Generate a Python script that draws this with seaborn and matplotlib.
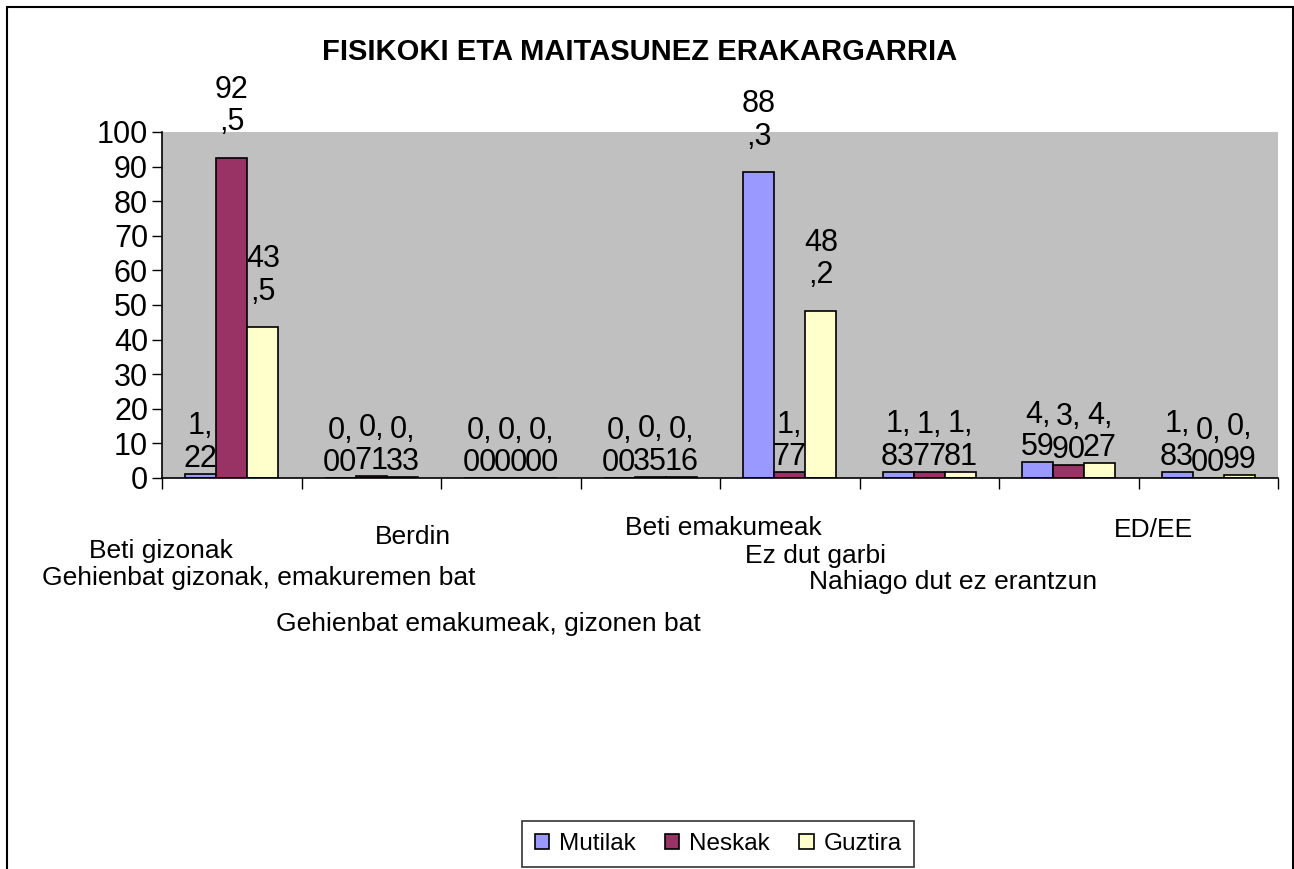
import numpy as np
import pandas as pd
import matplotlib
matplotlib.use("Agg")
import matplotlib.pyplot as plt
from matplotlib.patches import Rectangle
import seaborn as sns

categories = [
    "Beti gizonak",
    "Gehienbat gizonak, emakuremen bat",
    "Berdin",
    "Gehienbat emakumeak, gizonen bat",
    "Beti emakumeak",
    "Ez dut garbi",
    "Nahiago dut ez erantzun",
    "ED/EE",
]
series = ["Mutilak", "Neskak", "Guztira"]
mutilak = [1.22, 0.00, 0.00, 0.00, 88.3, 1.83, 4.59, 1.83]
neskak = [92.5, 0.71, 0.00, 0.35, 1.77, 1.77, 3.90, 0.00]
guztira = [43.5, 0.33, 0.00, 0.16, 48.2, 1.81, 4.27, 0.99]
colors = ["#9999FF", "#993366", "#FFFFCC"]

# where the (staggered) category labels sit, in figure pixels from top-left
label_pos = [(161, 551), (259, 578), (413, 537), (488, 624),
             (723, 528), (816, 556), (953, 582), (1153, 530)]

df = pd.DataFrame({
    "kategoria": categories * 3,
    "serie": np.repeat(series, len(categories)),
    "balioa": mutilak + neskak + guztira,
})

sns.set_theme(style="white")
plt.rcParams["font.family"] = ["Liberation Sans", "DejaVu Sans"]
plt.rcParams["text.color"] = "black"

W, H = 1294, 869
fig = plt.figure(figsize=(W / 100, H / 100), dpi=100)
ax = fig.add_axes([162 / W, 1 - 478 / H, (1278 - 162) / W, (478 - 132) / H])

sns.barplot(data=df, x="kategoria", y="balioa", hue="serie", order=categories,
            hue_order=series, palette=colors, width=0.67, edgecolor="black",
            linewidth=1.2, saturation=1, ax=ax)

ax.set_facecolor("#C0C0C0")
ax.set_xlim(-0.5, len(categories) - 0.5)
ax.set_ylim(0, 100)
ax.set_yticks(range(0, 101, 10))
ax.tick_params(axis="y", labelsize=22, length=7, width=1, direction="out",
               left=True, pad=3, colors="black")
ax.set_xticks([])
ax.set_xticks(np.arange(-0.5, len(categories)), minor=True)
ax.tick_params(axis="x", which="minor", length=8, width=1, bottom=True,
               direction="out", colors="black")
ax.set_xlabel("")
ax.set_ylabel("")
for side in ["top", "right"]:
    ax.spines[side].set_visible(False)
for side in ["left", "bottom"]:
    ax.spines[side].set_color("black")
    ax.spines[side].set_linewidth(1.2)


def wrap_label(v):
    if v >= 10:
        whole, dec = f"{v:.1f}".split(".")
        return f"{whole}\n,{dec}"
    whole, dec = f"{v:.2f}".split(".")
    return f"{whole},\n{dec}"


for cont in ax.containers:
    for bar in cont:
        h = bar.get_height()
        off = 15 if h >= 10 else 0
        ax.annotate(wrap_label(h), (bar.get_x() + bar.get_width() / 2, h),
                    xytext=(0, off), textcoords="offset points",
                    ha="center", va="bottom", fontsize=22,
                    linespacing=1.1, color="black", annotation_clip=False)

for name, (px, py) in zip(categories, label_pos):
    fig.text(px / W, 1 - py / H, name, ha="center", va="center", fontsize=19)

fig.text(640 / W, 1 - 52 / H, "FISIKOKI ETA MAITASUNEZ ERAKARGARRIA",
         ha="center", va="center", fontsize=21, fontweight="bold")

handles, labels = ax.get_legend_handles_labels()
ax.get_legend().remove()
leg = fig.legend(handles, labels, loc="center", ncol=3,
                 bbox_to_anchor=(718 / W, 1 - 844 / H), fontsize=17.5,
                 frameon=True, fancybox=False, edgecolor="black",
                 handlelength=0.6, handleheight=0.6, handletextpad=0.4,
                 columnspacing=1.2, borderpad=0.5, borderaxespad=0)
leg.get_frame().set_linewidth(1.2)

fig.add_artist(Rectangle((7 / W, -0.05), (1293 - 7) / W, 1.05 - 7 / H,
                         transform=fig.transFigure, fill=False,
                         edgecolor="black", linewidth=1.5))

fig.savefig("out.png", dpi=100)
